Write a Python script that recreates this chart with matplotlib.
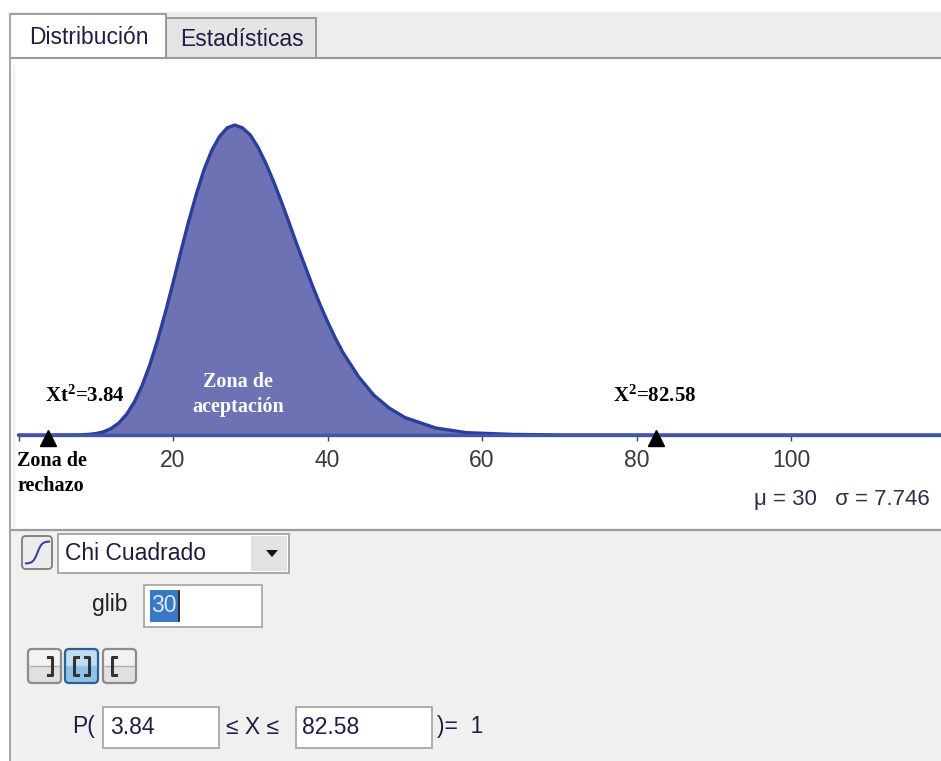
import numpy as np
import matplotlib
matplotlib.use("Agg")
import matplotlib.pyplot as plt
from matplotlib.patches import Rectangle, FancyBboxPatch, Polygon

plt.rcParams['mathtext.fontset'] = 'custom'
plt.rcParams['mathtext.rm'] = 'Liberation Serif:bold'
plt.rcParams['mathtext.it'] = 'Liberation Serif:bold'
plt.rcParams['mathtext.bf'] = 'Liberation Serif:bold'

# ---------------- data ----------------
x_vals = [0, 3.84, 8, 9, 10, 11, 12, 13, 14, 15, 16, 17, 18, 19, 20, 21, 22, 23, 24,
          25, 26, 27, 28, 29, 30, 31, 32, 33, 34, 35, 36, 37, 38, 39, 40, 41, 42,
          44, 46, 48, 50, 54, 58, 64, 70, 82.58, 100, 120]
density = [0, 0, 0.00003, 0.00009, 0.00024, 0.00054, 0.00112, 0.00207, 0.00355,
           0.00566, 0.00846, 0.0120, 0.0162, 0.0209, 0.0260, 0.0313, 0.0364, 0.0411,
           0.0453, 0.0486, 0.0510, 0.0525, 0.0530, 0.0525, 0.0513, 0.0492, 0.0465,
           0.0434, 0.0400, 0.0364, 0.0327, 0.0292, 0.0257, 0.0224, 0.0194, 0.0166,
           0.0141, 0.0100, 0.0068, 0.0046, 0.0030, 0.0012, 0.0004, 0.0001, 0.00001,
           0, 0, 0]
lower_crit = 3.84
upper_stat = 82.58
tick_vals = [0, 20, 40, 60, 80, 100]
tick_labels = ['', '20', '40', '60', '80', '100']
dof = 30
mu_text = "μ = 30   σ = 7.746"
dist_name = "Chi Cuadrado"
prob_result = "1"

W, H = 941, 761
fig = plt.figure(figsize=(W / 100, H / 100), dpi=100)
fig.patch.set_facecolor('white')

SANS = 'Liberation Sans'
SERIF = 'Liberation Serif'

# background layer (pixel coordinates, y downward)
bg = fig.add_axes([0, 0, 1, 1], zorder=0)
bg.set_xlim(0, W); bg.set_ylim(H, 0); bg.axis('off')

# tab strip
bg.add_patch(Rectangle((10, 12), W - 10, 45, facecolor='#EDEDEB', edgecolor='none'))
bg.plot([10, W], [57.5, 57.5], color='#9A9A9A', lw=1.5)
# plot panel white
bg.add_patch(Rectangle((11, 58), W - 11, 471, facecolor='white', edgecolor='none'))
# lower panel
bg.add_patch(Rectangle((11, 530), W - 11, H - 530, facecolor='#F0F0F0', edgecolor='none'))
bg.plot([11, W], [529.5, 529.5], color='#9C9C9C', lw=1.6)
# left border
bg.plot([10, 10], [14, H], color='#A8A8A8', lw=1.5)
bg.plot([14.5, 14.5], [66, 528], color='#EFEFEF', lw=1.5)

# tabs
bg.add_patch(Rectangle((166, 18), 150, 39.5, facecolor='#E4E4E4', edgecolor='#8E8E8E', lw=1.2))
bg.add_patch(Rectangle((10, 14), 156, 44, facecolor='white', edgecolor='#8E8E8E', lw=1.2))
bg.add_patch(Rectangle((11, 56), 154, 4, facecolor='white', edgecolor='none'))
bg.text(89, 38, 'Distribución', fontsize=16.5, family=SANS, color='#1E1E46',
        ha='center', va='center')
bg.text(242, 40, 'Estadísticas', fontsize=16.5, family=SANS, color='#1E1E46',
        ha='center', va='center')

# ---------------- the plot ----------------
x0_px, sx = 18.5, 7.725       # pixel of x=0 and px per unit
base_px, sy = 435.0, 5849.0   # baseline pixel and px per density unit
ax_l, ax_r, ax_t, ax_b = 12, W, 58, 528
ax = fig.add_axes([ax_l / W, 1 - ax_b / H, (ax_r - ax_l) / W, (ax_b - ax_t) / H], zorder=1)
ax.set_facecolor('none')
ax.set_xlim((ax_l - x0_px) / sx, (ax_r - x0_px) / sx)
ax.set_ylim(-(ax_b - base_px) / sy, (base_px - ax_t) / sy)

xs = np.array(x_vals)
ys = np.array(density)
mask = (xs >= lower_crit) & (xs <= upper_stat)
ax.fill_between(xs[mask], 0, ys[mask], color='#6C72B3', lw=0)
ax.plot(xs, ys, color='#2B3E9B', lw=2.4, solid_joinstyle='round', solid_capstyle='round')
ax.plot([0, 120], [0, 0], color='#4254AA', lw=2.4)

for s in ['top', 'right', 'left']:
    ax.spines[s].set_visible(False)
ax.spines['bottom'].set_position(('data', 0))
ax.spines['bottom'].set_visible(False)
ax.set_yticks([])
ax.set_xticks(tick_vals)
ax.set_xticklabels(tick_labels)
ax.tick_params(axis='x', direction='out', length=4, width=1, color='#444444',
               pad=6, labelsize=16.5, labelcolor='#3A3A3A')
for lab in ax.get_xticklabels():
    lab.set_family(SANS)

# triangles at the critical / observed values
ax.plot([lower_crit, upper_stat], [-0.0005, -0.0005], linestyle='none', marker='^',
        markersize=11.5, color='black', clip_on=False)

# ---------------- overlay layer ----------------
top = fig.add_axes([0, 0, 1, 1], zorder=3)
top.set_xlim(0, W); top.set_ylim(H, 0); top.axis('off')
top.patch.set_alpha(0)

top.text(85, 396, r'Xt$^{2}$=3.84', fontsize=15, family=SERIF, weight='bold',
         color='black', ha='center', va='center')
top.text(655, 396, r'X$^{2}$=82.58', fontsize=15, family=SERIF, weight='bold',
         color='black', ha='center', va='center')
top.text(238, 382, 'Zona de', fontsize=14.5, family=SERIF, weight='bold', color='white',
         ha='center', va='center')
top.text(238, 407, 'aceptación', fontsize=14.5, family=SERIF, weight='bold', color='white',
         ha='center', va='center')
top.text(17, 461, 'Zona de', fontsize=14.5, family=SERIF, weight='bold', color='black',
         ha='left', va='center')
top.text(17, 486, 'rechazo', fontsize=14.5, family=SERIF, weight='bold', color='black',
         ha='left', va='center')
top.text(930, 499, mu_text, fontsize=16, family=SANS, color='#2E2E48',
         ha='right', va='center')

# icon button (cdf toggle)
top.add_patch(FancyBboxPatch((22, 536), 30, 33, boxstyle='round,pad=0,rounding_size=4',
                             facecolor='#ECECEC', edgecolor='#7C7C7C', lw=1.3))
t = np.linspace(-1, 1, 40)
top.plot(26 + (t + 1) * 11.5, 552.5 - 11 * np.tanh(2.6 * t), color='#3444A8', lw=1.5)

# combo box
top.add_patch(Rectangle((58, 534), 231, 39, facecolor='white', edgecolor='#A3A3A3', lw=1.3))
top.add_patch(Rectangle((251, 536), 36, 35, facecolor='#E2E2E2', edgecolor='none'))
top.add_patch(Polygon([[266, 550], [278, 550], [272, 557]], closed=True, facecolor='#111111',
                      edgecolor='none'))
top.text(65, 553, dist_name, fontsize=16.5, family=SANS, color='#1C1C3C', ha='left',
         va='center')

# degrees of freedom
top.text(128, 605, 'glib', fontsize=16.5, family=SANS, color='#222222', ha='right',
         va='center')
top.add_patch(Rectangle((144, 585), 118, 42, facecolor='white', edgecolor='#A8A8A8', lw=1.3))
top.add_patch(Rectangle((150, 590), 28, 32, facecolor='#3B78C3', edgecolor='none'))
top.text(151, 606, str(dof), fontsize=16.5, family=SANS, color='#D8E8FA', ha='left',
         va='center')
top.plot([179, 179], [591, 621], color='black', lw=1.2)

# interval buttons
for i, (bx, sel) in enumerate([(28, False), (65, True), (103, False)]):
    fc_top = '#BFDDF3' if sel else '#F2F2F2'
    fc_bot = '#8EC2EA' if sel else '#E0E0E0'
    ec = '#2F5F8F' if sel else '#8C8C8C'
    top.add_patch(Rectangle((bx + 1, 650), 31, 16, facecolor=fc_top, edgecolor='none'))
    top.add_patch(Rectangle((bx + 1, 666), 31, 16, facecolor=fc_bot, edgecolor='none'))
    top.add_patch(FancyBboxPatch((bx, 649), 33, 34, boxstyle='round,pad=0,rounding_size=4',
                                 facecolor='none', edgecolor=ec, lw=1.6))
    top.plot([bx + 2, bx + 31], [666, 666], color='#B0B0B0' if not sel else '#9CC6E6', lw=1)
    if i in (0, 1):   # right bracket
        top.plot([bx + 20, bx + 24, bx + 24, bx + 20], [657, 657, 675, 675],
                 color='#333333', lw=2.2)
    if i in (1, 2):   # left bracket
        top.plot([bx + 13, bx + 9, bx + 9, bx + 13], [657, 657, 675, 675],
                 color='#333333', lw=2.2)

# probability row
top.text(72, 727, 'P(', fontsize=16.5, family=SANS, color='#1E1E46', ha='left', va='center')
top.add_patch(Rectangle((103, 707), 116, 41, facecolor='white', edgecolor='#A8A8A8', lw=1.3))
top.text(110, 727, f'{lower_crit:.2f}', fontsize=16.5, family=SANS, color='#1E1E46',
         ha='left', va='center')
top.text(226, 727, '≤ X ≤', fontsize=16.5, family=SANS, color='#1E1E46', ha='left',
         va='center')
top.add_patch(Rectangle((296, 707), 136, 41, facecolor='white', edgecolor='#A8A8A8', lw=1.3))
top.text(302, 727, f'{upper_stat:.2f}', fontsize=16.5, family=SANS, color='#1E1E46',
         ha='left', va='center')
top.text(437, 727, ')=  ' + prob_result, fontsize=16.5, family=SANS, color='#1E1E46',
         ha='left', va='center')

fig.savefig('out.png', dpi=100, facecolor='white')
